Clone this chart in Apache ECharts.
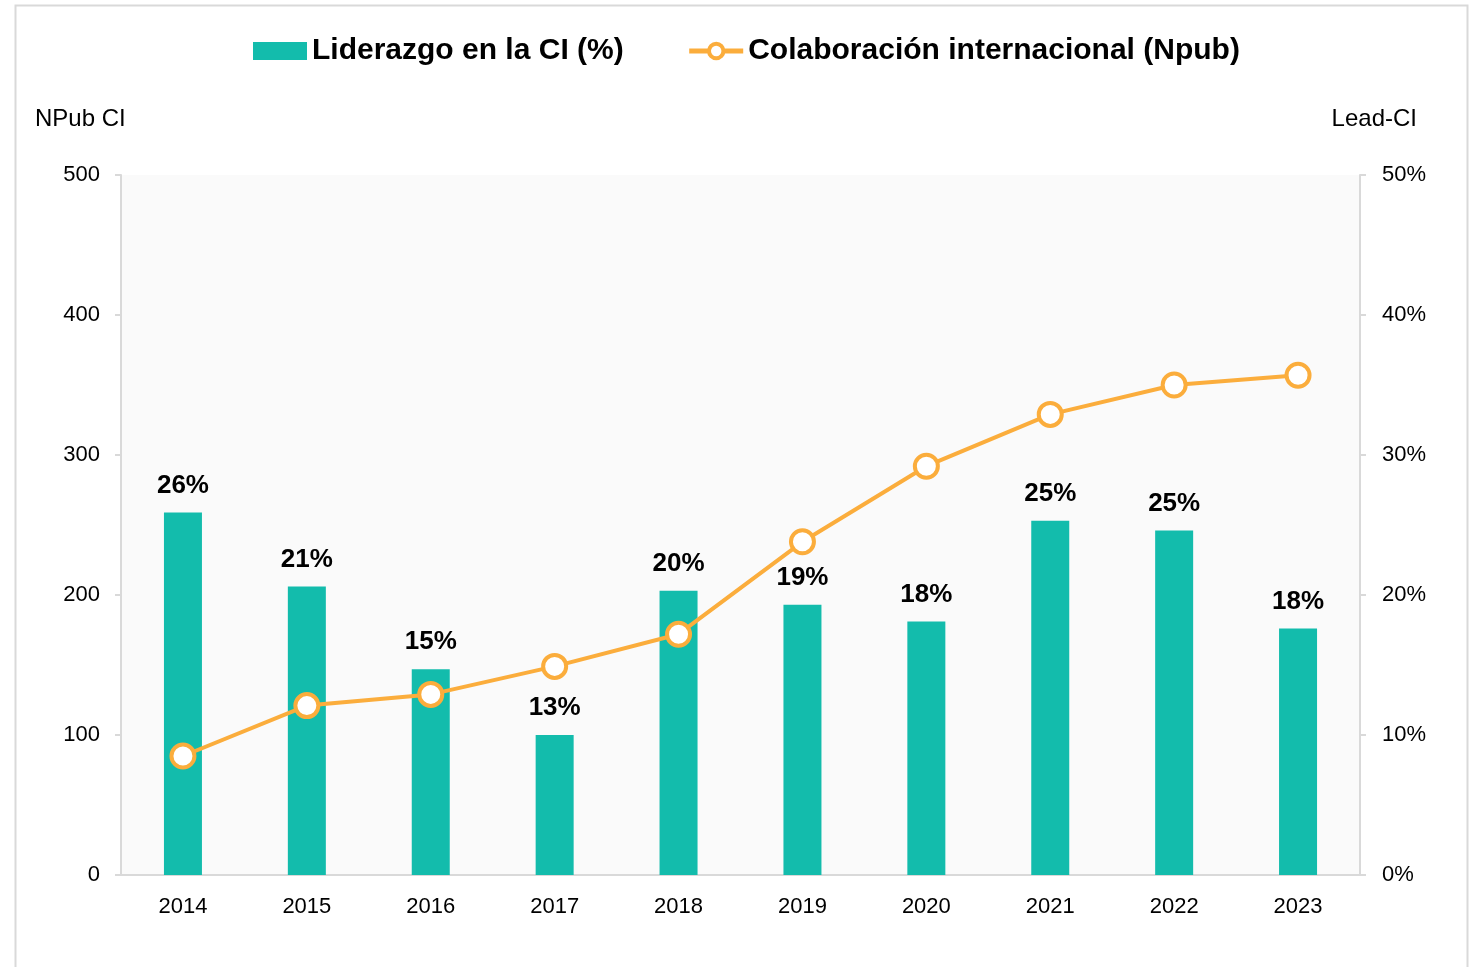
<!DOCTYPE html>
<html>
<head>
<meta charset="utf-8">
<script src="https://cdn.jsdelivr.net/npm/echarts@6/dist/echarts.min.js"></script>
<style>
  html, body { margin: 0; padding: 0; background: #fff; }
  #chart { width: 1479px; height: 967px; }
</style>
</head>
<body>
<div id="chart"></div>
<script>
  // años
  const years = ['2014', '2015', '2016', '2017', '2018', '2019', '2020', '2021', '2022', '2023']
  const leadValues = [25.9, 20.6, 14.7, 10.0, 20.3, 19.3, 18.1, 25.3, 24.6, 17.6]
  // etiquetas tal como aparecen sobre las barras
  const leadLabels = ['26%', '21%', '15%', '13%', '20%', '19%', '18%', '25%', '25%', '18%']
  // colaboración internacional (Npub), eje izquierdo
  const npubValues = [85, 121, 129, 149, 172, 238, 292, 329, 350, 357]

  const leftTicks = { min: 0, max: 500, interval: 100 }
  const rightTicks = { min: 0, max: 50, interval: 10 }

  const teal = '#13bcac'
  const orange = '#fbad3c'
  const grey = '#d9d9d9'
  const font = '"Liberation Sans", Arial, sans-serif'

  const chart = echarts.init(document.getElementById('chart'))

  chart.setOption({
    animation: false,
    textStyle: { fontFamily: font, color: '#000' },
    graphic: [
      {
        type: 'rect',
        shape: { x: 15.5, y: 5.5, width: 1452, height: 1000 },
        style: { fill: 'none', stroke: grey, lineWidth: 2 },
        silent: true
      },
      {
        type: 'text', left: 35, top: 107,
        style: { text: 'NPub CI', font: '24px ' + font, fill: '#000' }
      },
      {
        type: 'text', right: 62, top: 107,
        style: { text: 'Lead-CI', font: '24px ' + font, fill: '#000' }
      }
    ],
    legend: {
      top: 31,
      left: 248,
      itemGap: 63,
      itemWidth: 54,
      itemHeight: 18,
      textStyle: { fontSize: 30, fontWeight: 'bold', color: '#000', fontFamily: font },
      data: [
        { name: 'Liderazgo en la CI (%)', icon: 'rect' },
        {
          name: 'Colaboración internacional (Npub)',
          lineStyle: { width: 5, color: orange },
          itemStyle: { color: '#fff', borderColor: orange, borderWidth: 4 }
        }
      ]
    },
    grid: {
      left: 121, right: 119, top: 175, bottom: 92,
      show: true, backgroundColor: '#fafafa', borderWidth: 0
    },
    xAxis: {
      type: 'category',
      data: years,
      axisLine: { lineStyle: { color: grey, width: 2 } },
      axisTick: { show: false },
      axisLabel: { fontSize: 22, color: '#000', margin: 21 }
    },
    yAxis: [
      {
        type: 'value',
        min: leftTicks.min, max: leftTicks.max, interval: leftTicks.interval,
        position: 'left',
        splitLine: { show: false },
        axisLine: { show: true, lineStyle: { color: grey, width: 2 } },
        axisTick: { show: true, length: 6, lineStyle: { color: grey, width: 2 } },
        axisLabel: { fontSize: 22, color: '#000', margin: 21 }
      },
      {
        type: 'value',
        min: rightTicks.min, max: rightTicks.max, interval: rightTicks.interval,
        position: 'right',
        splitLine: { show: false },
        axisLine: { show: true, lineStyle: { color: grey, width: 2 } },
        axisTick: { show: true, length: 6, lineStyle: { color: grey, width: 2 } },
        axisLabel: { fontSize: 22, color: '#000', margin: 22, formatter: '{value}%' }
      }
    ],
    series: [
      {
        name: 'Liderazgo en la CI (%)',
        type: 'bar',
        yAxisIndex: 1,
        data: leadValues,
        barWidth: 38,
        itemStyle: { color: teal },
        label: {
          show: true,
          position: 'top',
          distance: 14,
          fontSize: 26,
          fontWeight: 'bold',
          color: '#000',
          formatter: (p) => leadLabels[p.dataIndex]
        }
      },
      {
        name: 'Colaboración internacional (Npub)',
        type: 'line',
        yAxisIndex: 0,
        data: npubValues,
        symbol: 'circle',
        symbolSize: 23,
        lineStyle: { color: orange, width: 4 },
        itemStyle: { color: '#fff', borderColor: orange, borderWidth: 4 },
        z: 5
      }
    ]
  })
</script>
</body>
</html>
